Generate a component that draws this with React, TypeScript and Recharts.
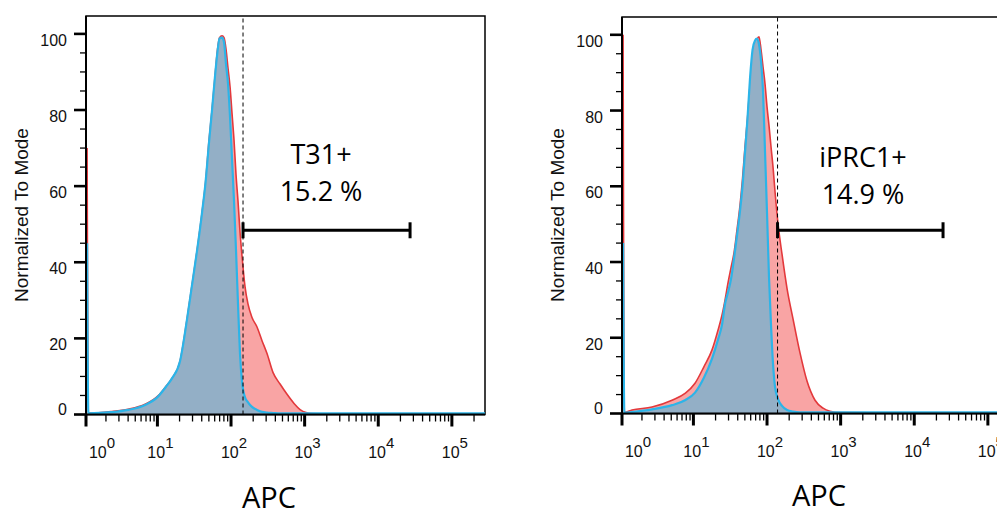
import React from 'react';
import {
  ComposedChart,
  Area,
  XAxis,
  YAxis,
  ReferenceLine,
  ReferenceArea,
  ReferenceDot,
  Label,
} from 'recharts';

// ---- Data (x = position on the log axis in decades, 10^k at k) ----
const t31X = [0.045, 0.062, 0.37, 0.601, 0.832, 1.008, 1.117, 1.198, 1.307, 1.402, 1.47, 1.538, 1.606, 1.654, 1.701, 1.742, 1.783, 1.817, 1.844, 1.878, 1.905, 1.932, 1.959, 1.987, 2.014, 2.041, 2.068, 2.095, 2.122, 2.15, 2.19, 2.231, 2.285, 2.353, 2.421, 2.489, 2.571, 2.666, 2.761, 2.856, 2.938, 3.019, 3.101, 3.345, 4.296, 5.45];
const t31Sample = [70, 0.4, 0.8, 1.4, 2.7, 4.9, 7.4, 9.5, 14, 25, 34, 43, 53, 61, 72, 80, 89, 96, 99, 99.5, 99, 96, 91, 86, 79, 72, 63, 56, 48, 41.5, 33.6, 29, 25.5, 23, 19.4, 16, 11, 8, 5.3, 2.9, 1.3, 0.5, 0.25, 0.2, 0.2, 0.2];
const t31Control = [45, 0.3, 0.6, 1.2, 2.5, 4.7, 7.3, 9.5, 14, 25, 34, 43, 53, 61, 71.5, 80, 89, 95.5, 98.8, 99, 97.8, 92, 87, 78, 67, 56, 43, 29, 16, 8.5, 4.5, 3.2, 2, 1.2, 0.7, 0.5, 0.4, 0.3, 0.3, 0.3, 0.3, 0.3, 0.3, 0.3, 0.3, 0.3];

const iprcX = [0.045, 0.062, 0.166, 0.438, 0.709, 0.886, 1.022, 1.144, 1.253, 1.334, 1.389, 1.43, 1.47, 1.511, 1.552, 1.592, 1.633, 1.667, 1.701, 1.735, 1.769, 1.803, 1.837, 1.864, 1.891, 1.919, 1.946, 1.973, 2.0, 2.027, 2.054, 2.082, 2.109, 2.15, 2.204, 2.272, 2.353, 2.448, 2.544, 2.652, 2.761, 2.856, 2.992, 3.4, 4.487, 5.45];
const iprcSample = [100, 0.3, 0.9, 1.7, 3.5, 5.3, 8, 12.4, 16.8, 22, 26, 30, 34.5, 38.5, 42.5, 48.5, 55, 62, 70.5, 78, 86.6, 93, 97, 98.8, 99.5, 96, 91.5, 87, 81, 76, 70.5, 65, 58.5, 50, 42, 33, 25, 16, 8.5, 3.5, 1.4, 0.6, 0.25, 0.2, 0.2, 0.2];
const iprcControl = [45, 0.2, 0.4, 1.1, 2.2, 3.5, 5.5, 9.5, 14.5, 19.5, 23.5, 29, 32, 35.5, 41, 47, 53.5, 60, 69, 78, 88.5, 96, 98.5, 99, 97.5, 93, 85, 69, 53, 36, 23.5, 13, 7, 3.8, 2, 0.9, 0.5, 0.3, 0.3, 0.3, 0.3, 0.3, 0.3, 0.3, 0.3, 0.3];

const yTicks = [0, 5, 10, 15, 20, 25, 30, 35, 40, 45, 50, 55, 60, 65, 70, 75, 80, 85, 90, 95, 100];
const yMajorLabels = [0, 20, 40, 60, 80, 100];
const xMajorTicks = [0.03, 1, 2, 3, 4, 5];
const xExponents = ['0', '1', '2', '3', '4', '5'];
const xMinorMultipliers = [2, 3, 4, 5, 6, 7, 8, 9];

const t31Gate = [2.163, 4.432];
const iprcGate = [2.143, 4.391];
const gateLevel = 48.4;
const t31Labels = ['T31+', '15.2 %'];
const iprcLabels = ['iPRC1+', '14.9 %'];

const X_DOMAIN: [number, number] = [0.03, 5.45];
const Y_DOMAIN: [number, number] = [0, 104.7];

const minorTicks: number[] = [];
for (let k = 0; k <= 5; k++) {
  for (const m of xMinorMultipliers) {
    const v = k + Math.log10(m);
    if (v > X_DOMAIN[0] && v < X_DOMAIN[1]) minorTicks.push(v);
  }
}
const xTicks = [...xMajorTicks, ...minorTicks].sort((a, b) => a - b);

const TICK_FONT = '"Liberation Sans", Arial, sans-serif';
const TEXT_FONT = '"Open Sans", "Liberation Sans", sans-serif';

const YTick = (props: any) => {
  const { x, y, payload } = props;
  const v = payload.value;
  const major = yMajorLabels.includes(v);
  return (
    <g>
      <line x1={x - (major ? 12 : 6)} x2={x} y1={y} y2={y} stroke="#000" strokeWidth={major ? 2.6 : 1.3} />
      {major && (
        <text
          x={x - 19}
          y={v === 0 ? y - 5 : y + 6.5}
          textAnchor="end"
          dominantBaseline="central"
          fontSize={16}
          fontFamily={TICK_FONT}
          fill="#111"
        >
          {v}
        </text>
      )}
    </g>
  );
};

const XTick = (props: any) => {
  const { x, y, payload } = props;
  const v = payload.value;
  const idx = xMajorTicks.findIndex((t) => Math.abs(t - v) < 1e-6);
  const major = idx >= 0;
  const lx = idx === 0 ? x + 16 : x + 3;
  return (
    <g>
      <line x1={x} x2={x} y1={y} y2={y + (major ? 12 : 7)} stroke="#000" strokeWidth={major ? 3 : 1.3} />
      {major && (
        <text x={lx} y={y + 43} textAnchor="middle" fontSize={16} fontFamily={TICK_FONT} fill="#111">
          <tspan>10</tspan>
          <tspan dy={-10} fontSize={15}>{xExponents[idx]}</tspan>
        </text>
      )}
    </g>
  );
};

type PanelProps = {
  xs: number[];
  sample: number[];
  control: number[];
  gate: number[];
  labels: string[];
  labelX: number;
  labelY: [number, number];
  left: number;
  top: number;
  axisHeight: number;
  apcX: number;
  apcY: number;
};

const CHART_W = 540;
const CHART_H = 517;

const Panel = ({ xs, sample, control, gate, labels, labelX, labelY, left, top, axisHeight, apcX, apcY }: PanelProps) => {
  const data = xs.map((x, i) => ({ x, sample: sample[i], control: control[i] }));
  const cap = 2.1;
  return (
    <div style={{ position: 'absolute', left, top: 0 }}>
      <ComposedChart width={CHART_W} height={CHART_H} data={data} margin={{ top, right: 55, bottom: 0, left: 0 }}>
        <XAxis
          dataKey="x"
          type="number"
          domain={X_DOMAIN}
          ticks={xTicks}
          interval={0}
          allowDataOverflow
          height={axisHeight}
          tickSize={0}
          tickMargin={0}
          tickLine={false}
          axisLine={{ stroke: '#000', strokeWidth: 2 }}
          tick={<XTick />}
        >
          <Label
            content={() => (
              <text x={apcX} y={apcY} textAnchor="middle" fontSize={29} fontFamily={TEXT_FONT} fill="#000">
                APC
              </text>
            )}
          />
        </XAxis>
        <YAxis
          type="number"
          domain={Y_DOMAIN}
          ticks={yTicks}
          interval={0}
          allowDataOverflow
          width={86}
          tickSize={0}
          tickMargin={0}
          tickLine={false}
          axisLine={{ stroke: '#000', strokeWidth: 2 }}
          tick={<YTick />}
        >
          <Label
            content={() => (
              <text
                x={0}
                y={0}
                transform={`translate(28, 215) rotate(-90)`}
                textAnchor="middle"
                fontSize={19}
                fontFamily={TICK_FONT}
                fill="#111"
              >
                Normalized To Mode
              </text>
            )}
          />
        </YAxis>
        <ReferenceArea x1={X_DOMAIN[0]} x2={X_DOMAIN[1]} y1={Y_DOMAIN[0]} y2={Y_DOMAIN[1]} fill="none" stroke="#000" strokeWidth={1.5} />
        <Area
          type="monotone"
          dataKey="sample"
          stroke="#e3393c"
          strokeWidth={1.6}
          fill="#f9a4a4"
          fillOpacity={1}
          isAnimationActive={false}
          dot={false}
          activeDot={false}
        />
        <Area
          type="monotone"
          dataKey="control"
          stroke="#2cb4e8"
          strokeWidth={2.2}
          fill="#93afc6"
          fillOpacity={1}
          isAnimationActive={false}
          dot={false}
          activeDot={false}
        />
        <ReferenceLine x={gate[0]} stroke="#000" strokeWidth={1} strokeDasharray="4 3" />
        <ReferenceLine segment={[{ x: gate[0], y: gateLevel }, { x: gate[1], y: gateLevel }]} stroke="#000" strokeWidth={3} />
        <ReferenceLine segment={[{ x: gate[0], y: gateLevel - cap }, { x: gate[0], y: gateLevel + cap }]} stroke="#000" strokeWidth={3} />
        <ReferenceLine segment={[{ x: gate[1], y: gateLevel - cap }, { x: gate[1], y: gateLevel + cap }]} stroke="#000" strokeWidth={3} />
        <ReferenceDot
          x={labelX}
          y={labelY[0]}
          r={0}
          fill="none"
          stroke="none"
          label={{ value: labels[0], position: 'center', fontSize: 27, fill: '#000', fontFamily: TEXT_FONT }}
        />
        <ReferenceDot
          x={labelX}
          y={labelY[1]}
          r={0}
          fill="none"
          stroke="none"
          label={{ value: labels[1], position: 'center', fontSize: 27, fill: '#000', fontFamily: TEXT_FONT }}
        />
      </ComposedChart>
    </div>
  );
};

export default function App() {
  return (
    <div style={{ position: 'relative', margin: -8, width: 1005, height: 517, overflow: 'hidden', background: '#fff' }}>
      <Panel
        xs={t31X}
        sample={t31Sample}
        control={t31Control}
        gate={t31Gate}
        labels={t31Labels}
        labelX={3.223}
        labelY={[68.3, 58.5]}
        left={0}
        top={16}
        axisHeight={102.5}
        apcX={269}
        apcY={508}
      />
      <Panel
        xs={iprcX}
        sample={iprcSample}
        control={iprcControl}
        gate={iprcGate}
        labels={iprcLabels}
        labelX={3.304}
        labelY={[67.7, 57.9]}
        left={536}
        top={17}
        axisHeight={103.5}
        apcX={283}
        apcY={506}
      />
    </div>
  );
}
